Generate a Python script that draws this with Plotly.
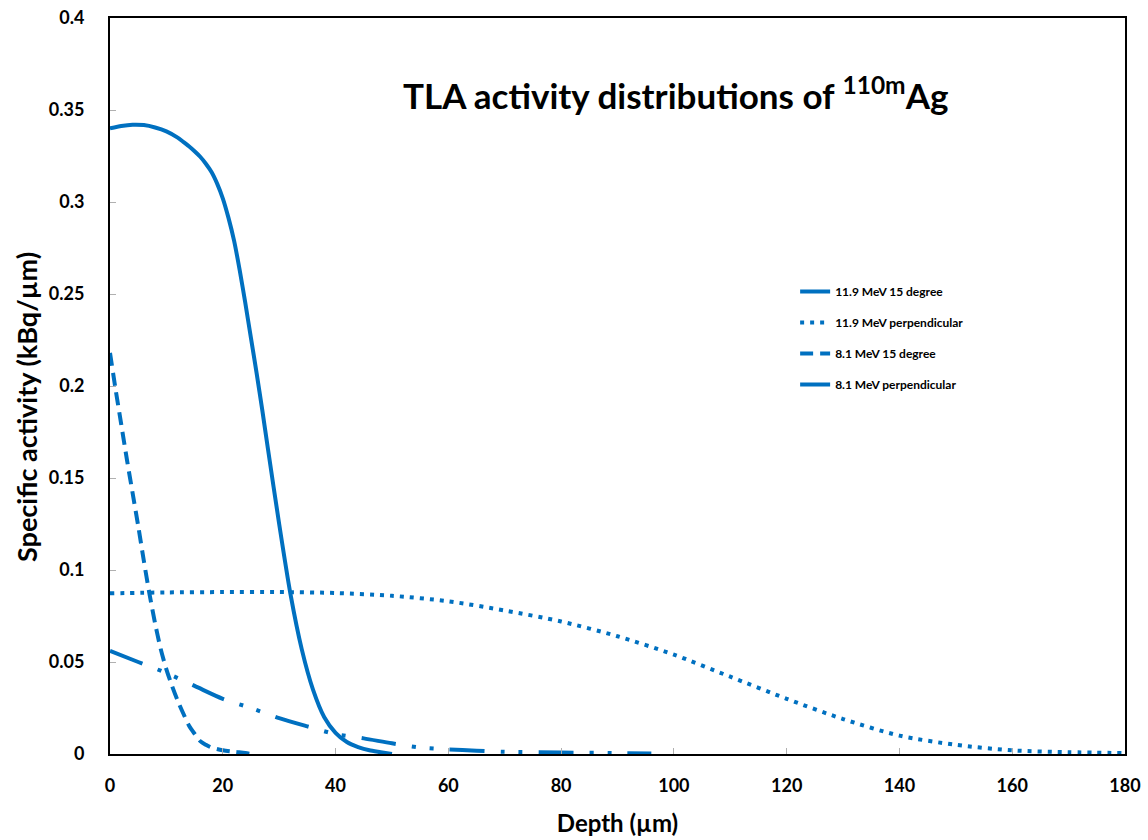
import plotly.graph_objects as go

# Series 1: 11.9 MeV 15 degree
x1 = [0, 2, 4, 6, 8, 10, 12, 13, 14, 15, 16, 17, 18, 19, 20, 21, 22, 23, 24, 25, 26, 27, 28,
      30, 32, 34, 36, 38, 40, 42, 44, 46, 48, 50]
y1 = [0.340, 0.3413, 0.342, 0.3418, 0.3405, 0.3384, 0.335, 0.3327, 0.3303, 0.3276, 0.3246, 0.3208,
      0.3163, 0.310, 0.302, 0.2915, 0.279, 0.263, 0.245, 0.226, 0.207, 0.187, 0.166,
      0.125, 0.087, 0.057, 0.035, 0.020, 0.0115, 0.0065, 0.0038, 0.002, 0.001, 0.0]

# Series 2: 11.9 MeV perpendicular
x2 = [0, 10, 20, 30, 40, 50, 60, 70, 80, 90, 100, 110, 120, 130, 140, 150, 160, 170, 180]
y2 = [0.0873, 0.0878, 0.088, 0.088, 0.0875, 0.086, 0.083, 0.078, 0.072, 0.064, 0.054, 0.042,
      0.030, 0.019, 0.010, 0.005, 0.002, 0.001, 0.0005]

# Series 3: 8.1 MeV 15 degree
x3 = [0, 1, 2, 3, 4, 5, 6, 7, 8, 9, 10, 11, 12, 13, 14, 15, 16, 17, 18, 20, 22, 24, 25]
y3 = [0.218, 0.198, 0.179, 0.160, 0.142, 0.124, 0.105, 0.087, 0.071, 0.057, 0.046, 0.037, 0.029,
      0.022, 0.0155, 0.011, 0.007, 0.005, 0.0035, 0.002, 0.0012, 0.0005, 0.0]

# Series 4: 8.1 MeV perpendicular
x4 = [0, 5, 10, 15, 20, 25, 30, 35, 40, 45, 50, 55, 60, 65, 70, 80, 90, 96]
y4 = [0.056, 0.050, 0.044, 0.037, 0.030, 0.025, 0.0195, 0.015, 0.0108, 0.0085, 0.0058, 0.0035,
      0.0025, 0.0018, 0.0012, 0.0008, 0.0005, 0.0003]

names = ["11.9 MeV 15 degree", "11.9 MeV perpendicular", "8.1 MeV 15 degree", "8.1 MeV perpendicular"]
x_ticks = [0, 20, 40, 60, 80, 100, 120, 140, 160, 180]
y_ticks = [0, 0.05, 0.1, 0.15, 0.2, 0.25, 0.3, 0.35, 0.4]
y_tick_text = ["0", "0.05", "0.1", "0.15", "0.2", "0.25", "0.3", "0.35", "0.4"]

BLUE = "#0070C0"
FONT = "Lato"

fig = go.Figure()
series = [(x1, y1, "solid", 4, 0.6), (x2, y2, "4px,6px", 4, 0.8), (x3, y3, "13px,7px", 4, 0.8),
          (x4, y4, "35px,16px,4px,14px,4px,16px", 4, 0.8)]
for i, (xs, ys, dash, w, sm) in enumerate(series):
    fig.add_trace(go.Scatter(
        x=xs, y=ys, mode="lines", name="<b>" + names[i] + "</b>",
        line=dict(color=BLUE, width=w, dash=dash, shape="spline", smoothing=sm),
        legendgroup=str(i),
    ))

fig.update_layout(
    width=1148, height=840,
    margin=dict(l=110, r=23, t=18, b=86),
    paper_bgcolor="white", plot_bgcolor="white",
    font=dict(family=FONT, color="black"),
    showlegend=True,
    legend=dict(x=0.675, y=0.648, xanchor="left", yanchor="top",
                font=dict(family=FONT, size=12, color="black"),
                tracegroupgap=12, bgcolor="rgba(0,0,0,0)", itemwidth=30),
    annotations=[
        dict(text="<b>TLA activity distributions of <sup>110m</sup>Ag</b>",
             x=0.557, y=0.898, xref="paper", yref="paper", xanchor="center", yanchor="middle",
             showarrow=False, font=dict(family=FONT, size=35, color="black")),
        dict(text="<b>Specific activity (kBq/µm)</b>", textangle=-90,
             x=-0.0818, y=0.4715, xref="paper", yref="paper", xanchor="center", yanchor="middle",
             showarrow=False, font=dict(family=FONT, size=27, color="black")),
    ],
)

fig.update_xaxes(
    range=[0, 180], tickvals=x_ticks, ticks="inside", ticklen=6, tickcolor="#b0b0b0",
    showline=True, linecolor="black", linewidth=2, mirror=True, showgrid=False, zeroline=False,
    tickfont=dict(family=FONT, size=18, color="black", weight="bold"), ticklabelstandoff=14,
    title=dict(text="<b>Depth (µm)</b>", font=dict(family=FONT, size=24, color="black"), standoff=21),
    automargin=False,
)
fig.update_yaxes(
    range=[0, 0.4], tickvals=y_ticks, ticktext=y_tick_text, ticks="inside", ticklen=6,
    tickcolor="#b0b0b0",
    showline=True, linecolor="black", linewidth=2, mirror=True, showgrid=False, zeroline=False,
    tickfont=dict(family=FONT, size=18, color="black", weight="bold"), ticklabelstandoff=20,
    automargin=False,
)

fig.write_html("out.html")
